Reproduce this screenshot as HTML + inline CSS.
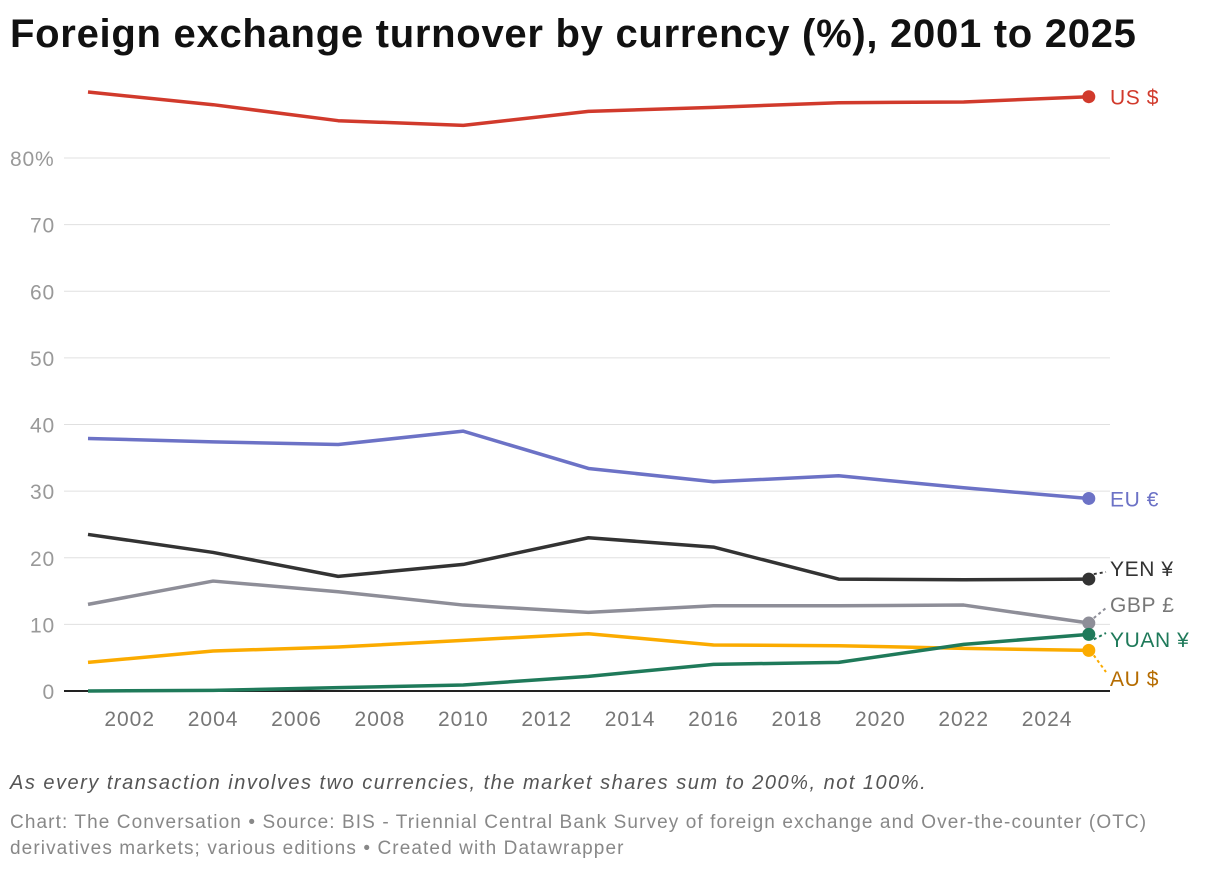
<!DOCTYPE html>
<html><head><meta charset="utf-8"><style>
body{margin:0;background:#fff;width:1220px;height:872px;overflow:hidden;font-family:"Liberation Sans",sans-serif}
#title{position:absolute;left:10px;top:12px;font-size:40px;font-weight:bold;color:#111;letter-spacing:0.72px;white-space:nowrap}
#note{position:absolute;left:10px;top:772px;font-size:20px;font-style:italic;color:#555;letter-spacing:1.5px;white-space:nowrap}
#credit{position:absolute;left:10px;top:810px;font-size:19px;color:#888;line-height:26px;width:1200px;letter-spacing:1.1px;white-space:nowrap}
svg{position:absolute;left:0;top:0}
</style></head><body>
<div id="title">Foreign exchange turnover by currency (%), 2001 to 2025</div>
<svg id="chart" width="1220" height="872"></svg>
<div id="note">As every transaction involves two currencies, the market shares sum to 200%, not 100%.</div>
<div id="credit">Chart: The Conversation • Source: BIS - Triennial Central Bank Survey of foreign exchange and Over-the-counter (OTC)<br>derivatives markets; various editions • Created with Datawrapper</div>
<script>
const years=[2001,2004,2007,2010,2013,2016,2019,2022,2025];
const usd=[89.9,88.0,85.6,84.9,87.0,87.6,88.3,88.4,89.2];
const eur=[37.9,37.4,37.0,39.0,33.4,31.4,32.3,30.5,28.9];
const yen=[23.5,20.8,17.2,19.0,23.0,21.6,16.8,16.7,16.8];
const gbp=[13.0,16.5,14.9,12.9,11.8,12.8,12.8,12.9,10.2];
const aud=[4.3,6.0,6.6,7.6,8.6,6.9,6.8,6.4,6.1];
const cny=[0.0,0.1,0.5,0.9,2.2,4.0,4.3,7.0,8.5];
const yTicks=[0,10,20,30,40,50,60,70,80];
const xTicks=[2002,2004,2006,2008,2010,2012,2014,2016,2018,2020,2022,2024];
const NS='http://www.w3.org/2000/svg';
const svg=document.getElementById('chart');
const X=y=>88+(y-2001)*41.7;
const Y=v=>691-v*6.6625;
function mk(t,a,p){const e=document.createElementNS(NS,t);for(const k in a)e.setAttribute(k,a[k]);(p||svg).appendChild(e);return e;}
yTicks.forEach(t=>{
  if(t>0){const g=mk('line',{x1:64,x2:1110,y1:Y(t),y2:Y(t),stroke:'#e0e0e0','stroke-width':1});
  
  }
  const l=mk('text',{x:t==80?10:55,y:Y(t)+8,'text-anchor':t==80?'start':'end','font-size':21,'letter-spacing':0.8,fill:'#999','font-family':'Liberation Sans'});
  l.textContent=t==80?'80%':t;
  
  
});
const ax=mk('line',{x1:64,x2:1110,y1:691,y2:691,stroke:'#222','stroke-width':2});


xTicks.forEach(t=>{
  const l=mk('text',{x:X(t),y:726,'text-anchor':'middle','font-size':21,'letter-spacing':1,fill:'#777','font-family':'Liberation Sans'});
  l.textContent=t;
  
  
});
const series=[
 {name:'US $',d:usd,c:'#d13a2c',lc:'#d13a2c',ly:null},
 {name:'EU €',d:eur,c:'#6c72c6',lc:'#6c72c6',ly:null},
 {name:'YEN ¥',d:yen,c:'#333',lc:'#333',ly:568},
 {name:'GBP £',d:gbp,c:'#8e8e98',lc:'#777',ly:604},
 {name:'AU $',d:aud,c:'#fbab00',lc:'#b56c00',ly:678},
 {name:'YUAN ¥',d:cny,c:'#1f7a5a',lc:'#1f7a5a',ly:639}
];
series.forEach(s=>{
  const p=mk('polyline',{points:s.d.map((v,i)=>X(years[i])+','+Y(v)).join(' '),fill:'none',stroke:s.c,'stroke-width':3.5,'stroke-linejoin':'round'});
  
  
  const lx=X(years[8]),lv=Y(s.d[8]);
  const dot=mk('circle',{cx:lx,cy:lv,r:6.5,fill:s.c});
  
  
  const ty=s.ly===null?lv:s.ly;
  if(s.ly!==null){const c=mk('line',{x1:lx+5,y1:lv+(ty<lv?-5:5),x2:1106,y2:ty+(ty<lv?4:-6),stroke:s.c,'stroke-width':2,'stroke-dasharray':'3,3'});
  
  }
  const t=mk('text',{x:1110,y:ty+8,'font-size':21,'letter-spacing':0.6,fill:s.lc,'font-family':'Liberation Sans'});
  t.textContent=s.name;
  
  
});
</script>
</body></html>
